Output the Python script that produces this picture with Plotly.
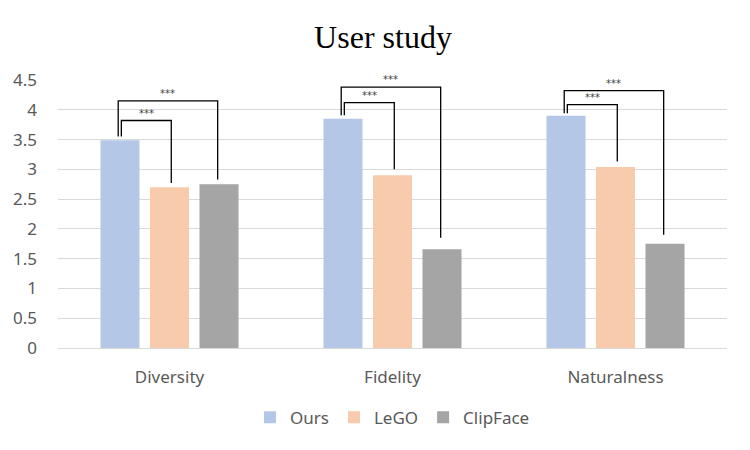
import plotly.graph_objects as go

categories = ["Diversity", "Fidelity", "Naturalness"]
series_names = ["Ours", "LeGO", "ClipFace"]
ours = [3.49, 3.85, 3.90]
lego = [2.70, 2.90, 3.04]
clipface = [2.75, 1.66, 1.75]
y_ticks = [0, 0.5, 1, 1.5, 2, 2.5, 3, 3.5, 4, 4.5]
y_tick_labels = ["0", "0.5", "1", "1.5", "2", "2.5", "3", "3.5", "4", "4.5"]

# significance brackets: (category index, comparison series index, label,
#   top level, left-leg bottom, right-leg bottom)
brackets = [
    (0, 1, "***", 3.82, 3.55, 2.77),
    (0, 2, "***", 4.15, 3.55, 2.83),
    (1, 1, "***", 4.12, 3.91, 3.00),
    (1, 2, "***", 4.38, 3.91, 1.85),
    (2, 1, "***", 4.085, 3.94, 3.13),
    (2, 2, "***", 4.32, 3.94, 1.90),
]

colors = ["#b4c7e7", "#f8cbad", "#a5a5a5"]
values = [ours, lego, clipface]
step = 0.222
bar_w = 0.175
offsets = [-step, 0.0, step]

fig = go.Figure()
for name, vals, col, off in zip(series_names, values, colors, offsets):
    fig.add_trace(go.Bar(
        x=list(range(len(categories))), y=vals, name=name,
        marker=dict(color=col, line=dict(width=0)),
        width=bar_w, offset=off - bar_w / 2,
    ))

for ci, si, label, top, lbot, rbot in brackets:
    inner = si == 1
    lx = ci + offsets[0] + (0.006 if inner else -0.008)
    rx = ci + offsets[si] + (0.008 if inner else -0.006)
    fig.add_shape(type="path",
                  path=f"M {lx},{lbot} L {lx},{top} L {rx},{top} L {rx},{rbot}",
                  xref="x", yref="y", line=dict(color="black", width=1.3))
    fig.add_annotation(x=(lx + rx) / 2, y=top, text=label, showarrow=False,
                       yanchor="bottom", yshift=0, xref="x", yref="y",
                       font=dict(size=10, color="#404040", family="DejaVu Sans"))

fig.update_layout(
    width=750, height=450,
    margin=dict(l=50, r=31, t=72, b=110, autoexpand=False),
    plot_bgcolor="white", paper_bgcolor="white",
    title=dict(text="User study", x=0.5, xanchor="center", y=0.935, yanchor="middle",
               font=dict(family="Liberation Serif", size=32, color="black")),
    font=dict(family="Noto Sans", size=17, color="#595959"),
    barmode="overlay",
    showlegend=True,
    legend=dict(orientation="h", x=0.5, xanchor="center", y=-0.26, yanchor="middle",
                font=dict(size=17, color="#595959"), itemwidth=30),
    xaxis=dict(range=[-0.5, 2.5], tickmode="array", tickvals=[0, 1, 2],
               ticktext=categories, showgrid=False, zeroline=False,
               showline=False, ticks="", ticklabelstandoff=17,
               tickfont=dict(size=17, color="#595959")),
    yaxis=dict(range=[0, 4.5], tickmode="array", tickvals=y_ticks,
               ticktext=y_tick_labels, showgrid=True, gridcolor="#d9d9d9",
               gridwidth=1, zeroline=True, zerolinecolor="#d9d9d9", zerolinewidth=1,
               showline=False, ticks="", ticklabelstandoff=20,
               tickfont=dict(size=17, color="#595959")),
)

fig.write_html("out.html")
